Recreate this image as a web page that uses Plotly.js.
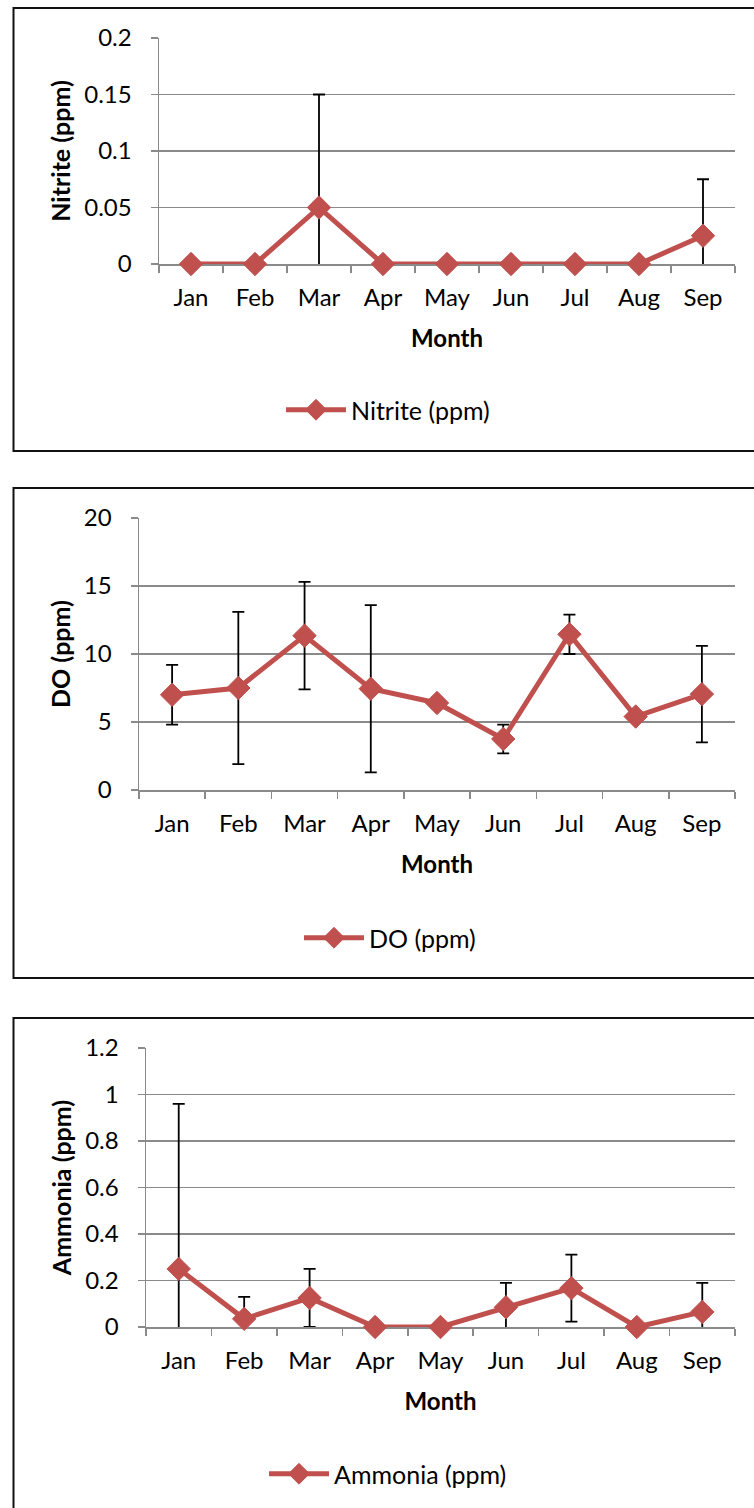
<!DOCTYPE html>
<html>
<head>
<meta charset="utf-8">
<script src="https://cdn.plot.ly/plotly-3.0.1.min.js"></script>
<style>
  html, body { margin: 0; padding: 0; background: #ffffff; }
  #chart { width: 754px; height: 1508px; }
</style>
</head>
<body>
<div id="chart"></div>
<script>
// Monthly water-quality measurements: mean value and standard deviation
const months = ['Jan', 'Feb', 'Mar', 'Apr', 'May', 'Jun', 'Jul', 'Aug', 'Sep'];

const nitrite = [0, 0, 0.05, 0, 0, 0, 0, 0, 0.025];
const nitriteSD = [0, 0, 0.10, 0, 0, 0, 0, 0, 0.05];

const dissolvedO2 = [7.0, 7.5, 11.35, 7.45, 6.4, 3.75, 11.45, 5.4, 7.05];
const dissolvedO2SD = [2.2, 5.6, 3.95, 6.15, 0.35, 1.05, 1.45, 0, 3.55];

const ammonia = [0.25, 0.035, 0.125, 0, 0, 0.085, 0.167, 0, 0.065];
const ammoniaSD = [0.71, 0.095, 0.125, 0, 0, 0.105, 0.144, 0, 0.125];

const W = 754, H = 1508;
const px = x => x / W;          // page pixel -> paper x
const py = y => 1 - y / H;      // page pixel -> paper y

const RED = '#C0504D';
const GRID = '#8a8a8a';
const FONT = 'Lato, "Open Sans", sans-serif';

// Error bars sit in their own trace so they are clipped to the plot area,
// while the line + markers trace is drawn unclipped on top.
function errorTrace(y, sd, xa, ya) {
  return {
    type: 'scatter', mode: 'markers',
    x: months, y: y, xaxis: xa, yaxis: ya,
    showlegend: false, hoverinfo: 'skip',
    cliponaxis: true,
    marker: { size: 1, color: 'rgba(0,0,0,0)' },
    error_y: { type: 'data', array: sd, color: '#000000', thickness: 1.8, width: 6 }
  };
}

function lineTrace(y, xa, ya, name, legend) {
  return {
    type: 'scatter', mode: 'lines+markers',
    x: months, y: y, name: name,
    xaxis: xa, yaxis: ya, legend: legend,
    cliponaxis: false,
    line: { color: RED, width: 5 },
    marker: { symbol: 'diamond', size: 18, color: RED, line: { color: RED, width: 1 } }
  };
}

const data = [
  errorTrace(nitrite, nitriteSD, 'x', 'y'),
  lineTrace(nitrite, 'x', 'y', 'Nitrite (ppm)', 'legend'),
  errorTrace(dissolvedO2, dissolvedO2SD, 'x2', 'y2'),
  lineTrace(dissolvedO2, 'x2', 'y2', 'DO (ppm)', 'legend2'),
  errorTrace(ammonia, ammoniaSD, 'x3', 'y3'),
  lineTrace(ammonia, 'x3', 'y3', 'Ammonia (ppm)', 'legend3')
];

function xAxis(left, anchor) {
  return {
    domain: [px(left), px(735)], anchor: anchor,
    type: 'category', range: [-0.5, 8.5],
    layer: 'below traces',
    showline: true, linecolor: GRID, linewidth: 1.5,
    ticks: 'outside', tickson: 'boundaries', ticklen: 7, tickcolor: GRID, tickwidth: 1.5,
    showgrid: false, zeroline: false,
    tickfont: { family: FONT, size: 24, color: '#000' },
    ticklabelstandoff: 12,
    title: { text: '<b>Month</b>', font: { family: FONT, size: 24, color: '#000' }, standoff: 20 },
    fixedrange: true
  };
}

function yAxis(top, bottom, anchor, range, dtick, title) {
  return {
    domain: [py(bottom), py(top)], anchor: anchor,
    range: range, dtick: dtick,
    layer: 'below traces',
    showline: true, linecolor: GRID, linewidth: 1.5,
    showgrid: true, gridcolor: GRID, gridwidth: 1.5,
    zeroline: false,
    ticks: 'outside', ticklen: 7, tickcolor: GRID, tickwidth: 1.5,
    tickfont: { family: FONT, size: 24, color: '#000' },
    ticklabelstandoff: 14,
    title: { text: '<b>' + title + '</b>', font: { family: FONT, size: 25, color: '#000' }, standoff: 6 },
    fixedrange: true
  };
}

function legendAt(x, y) {
  return {
    x: px(x), y: py(y), xanchor: 'left', yanchor: 'middle',
    orientation: 'h', bgcolor: 'rgba(0,0,0,0)',
    font: { family: FONT, size: 25, color: '#000' },
    itemwidth: 60
  };
}

function frame(top, bottom) {
  return {
    type: 'rect', xref: 'paper', yref: 'paper',
    x0: px(13.5), x1: px(780), y0: py(bottom), y1: py(top),
    line: { color: '#111111', width: 2 }, layer: 'below'
  };
}

const layout = {
  width: W, height: H,
  margin: { l: 0, r: 0, t: 0, b: 0 },
  paper_bgcolor: '#ffffff', plot_bgcolor: 'rgba(0,0,0,0)',
  font: { family: FONT, color: '#000' },
  showlegend: true,
  xaxis: xAxis(159, 'y'),
  yaxis: yAxis(38, 264, 'x', [0, 0.2], 0.05, 'Nitrite (ppm)'),
  xaxis2: xAxis(139, 'y2'),
  yaxis2: yAxis(518, 790, 'x2', [0, 20], 5, 'DO (ppm)'),
  xaxis3: xAxis(146, 'y3'),
  yaxis3: yAxis(1048, 1327, 'x3', [0, 1.2], 0.2, 'Ammonia (ppm)'),
  legend: legendAt(281, 410),
  legend2: legendAt(299, 938),
  legend3: legendAt(264, 1474),
  shapes: [frame(8, 451), frame(488, 978), frame(1018, 1560)]
};

Plotly.newPlot('chart', data, layout, { staticPlot: true, displayModeBar: false });
</script>
</body>
</html>
